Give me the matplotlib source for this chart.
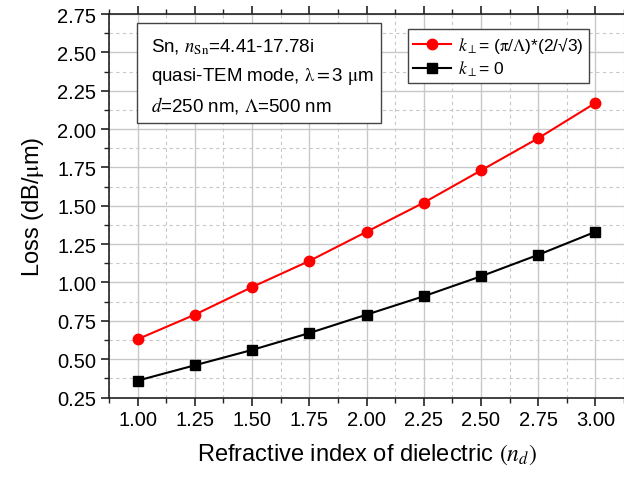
"""
Loss vs refractive index of dielectric (Sn grating, quasi-TEM mode)
"""
import matplotlib
matplotlib.use('Agg')
import matplotlib.pyplot as plt
from matplotlib.patches import Rectangle
from matplotlib.ticker import MultipleLocator, FormatStrFormatter

plt.rcParams['font.family'] = ['Liberation Sans', 'DejaVu Sans']
plt.rcParams['mathtext.fontset'] = 'stix'

# data
n_d = [1.00, 1.25, 1.50, 1.75, 2.00, 2.25, 2.50, 2.75, 3.00]
loss_kperp = [0.63, 0.79, 0.97, 1.14, 1.33, 1.52, 1.73, 1.94, 2.17]
loss_k0 = [0.36, 0.46, 0.56, 0.67, 0.79, 0.91, 1.04, 1.18, 1.33]

label_kperp = r'$k_{\perp}$= ($\mathrm{\pi}/\Lambda$)*(2/√3)'
label_k0 = r'$k_{\perp}$= 0'
info_lines = [
    r'Sn, $n_{\rm Sn}$=4.41-17.78i',
    r'quasi-TEM mode, $\mathrm{\lambda=}$3 $\mathrm{\mu}$m',
    r'$d$=250 nm, $\Lambda$=500 nm',
]

W, H = 624, 481
fig = plt.figure(figsize=(W / 100, H / 100), dpi=100)
ax = fig.add_axes([109 / W, 1 - 398.5 / H, (W - 109) / W, (398.5 - 15) / H])

ax.plot(n_d, loss_kperp, color='#ff0000', lw=1.5, marker='o', ms=7.5,
        label=label_kperp, zorder=3)
ax.plot(n_d, loss_k0, color='black', lw=1.5, marker='s', ms=6.5,
        label=label_k0, zorder=3)

ax.set_xlim(0.875, 3.125)
ax.set_ylim(0.25, 2.75)
ax.xaxis.set_major_locator(MultipleLocator(0.25))
ax.xaxis.set_minor_locator(MultipleLocator(0.125))
ax.yaxis.set_major_locator(MultipleLocator(0.25))
ax.yaxis.set_minor_locator(MultipleLocator(0.125))
ax.xaxis.set_major_formatter(FormatStrFormatter('%.2f'))
ax.yaxis.set_major_formatter(FormatStrFormatter('%.2f'))

ax.grid(which='major', color='#c8c8c8', lw=1.0, ls='-')
ax.grid(which='minor', color='#c8c8c8', lw=0.8, ls=(0, (3, 3)))
ax.set_axisbelow(True)

for s in ['left', 'bottom', 'top']:
    ax.spines[s].set_linewidth(1.2)
    ax.spines[s].set_color('#222222')
ax.spines['right'].set_visible(False)
ax.tick_params(which='major', direction='out', length=6, width=1.2,
               labelsize=14.5, top=True, right=False, pad=3, color='#222222')
ax.tick_params(which='minor', direction='out', length=3.5, width=1.0,
               top=True, right=False, color='#222222')

ax.set_xlabel(r'Refractive index of dielectric $(n_d)$', fontsize=17, labelpad=9)
ax.set_ylabel(r'Loss (dB/$\mathrm{\mu}$m)', fontsize=17, labelpad=8)

leg = ax.legend(loc='upper left', bbox_to_anchor=((408 - 109) / (W - 109), 1 - (30 - 15) / (398.5 - 15)),
                fontsize=12.5, fancybox=False, framealpha=1, edgecolor='#444444',
                handlelength=2.2, handletextpad=0.4, borderpad=0.3,
                labelspacing=0.2, borderaxespad=0)
leg.get_frame().set_linewidth(1.0)

# info box
fig.patches.append(Rectangle((137 / W, 1 - 124 / H), (381 - 137) / W, (124 - 24) / H,
                             transform=fig.transFigure, facecolor='white',
                             edgecolor='#444444', lw=1.0, zorder=5))
for line, yc in zip(info_lines, [47, 77, 106]):
    fig.text(151 / W, 1 - yc / H, line, fontsize=13.5, va='center', ha='left', zorder=6)

plt.savefig('out.png', dpi=100)
plt.close()
